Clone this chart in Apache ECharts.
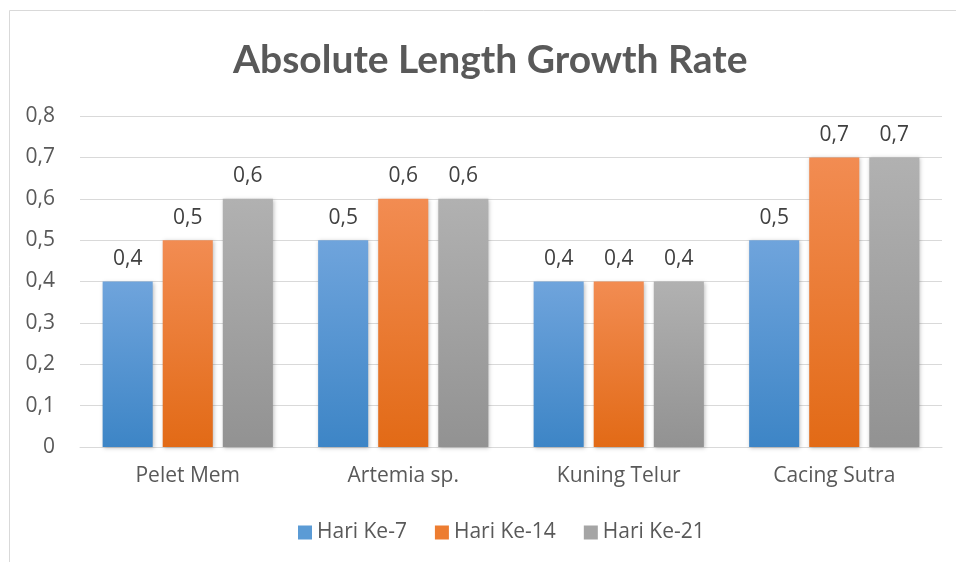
<!DOCTYPE html>
<html>
<head>
<meta charset="utf-8">
<script src="https://cdn.jsdelivr.net/npm/echarts@6/dist/echarts.min.js"></script>
<style>
  html, body { margin: 0; padding: 0; background: #fff; }
  #main { width: 956px; height: 562px; }
</style>
</head>
<body>
<div id="main"></div>
<script>
var categories = ['Pelet Mem', 'Artemia sp.', 'Kuning Telur', 'Cacing Sutra'];
var seriesNames = ['Hari Ke-7', 'Hari Ke-14', 'Hari Ke-21'];
var hari7 = [0.4, 0.5, 0.4, 0.5];
var hari14 = [0.5, 0.6, 0.4, 0.7];
var hari21 = [0.6, 0.6, 0.4, 0.7];

var font = '"Open Sans", Lato, sans-serif';
var titleFont = 'Lato, "Open Sans", sans-serif';

function grad(top, bottom) {
    return new echarts.graphic.LinearGradient(0, 0, 0, 1, [
        { offset: 0, color: top },
        { offset: 1, color: bottom }
    ]);
}

function fmt(v) {
    return String(v).replace('.', ',');
}

var colors = [
    grad('#6fa4dc', '#3d85c6'),
    grad('#f28c52', '#e26a16'),
    grad('#b1b1b1', '#929292')
];
var legendColors = ['#5b9bd5', '#ed7d31', '#a5a5a5'];

var myChart = echarts.init(document.getElementById('main'));

function makeSeries(name, data, i) {
    return {
        name: name,
        type: 'bar',
        data: data,
        barGap: '20%',
        barCategoryGap: '21%',
        itemStyle: {
            color: colors[i],
            shadowBlur: 4,
            shadowColor: 'rgba(0,0,0,0.25)',
            shadowOffsetX: 1,
            shadowOffsetY: 1
        },
        label: {
            show: true,
            position: 'top',
            distance: 12,
            fontFamily: font,
            fontSize: 21,
            color: '#404040',
            formatter: function (p) { return fmt(p.value); }
        }
    };
}

myChart.setOption({
    animation: false,
    graphic: [{
        type: 'rect',
        shape: { x: 9.5, y: 10.5, width: 960, height: 570 },
        style: { fill: 'none', stroke: '#d9d9d9', lineWidth: 1 },
        silent: true
    }],
    title: {
        text: 'Absolute Length Growth Rate',
        left: 228,
        top: 36,
        textStyle: {
            fontFamily: titleFont,
            fontWeight: 'bold',
            fontSize: 39,
            color: '#595959'
        }
    },
    legend: {
        data: seriesNames.map(function (n, i) {
            return { name: n, itemStyle: { color: legendColors[i] } };
        }),
        bottom: 14,
        left: 293,
        icon: 'rect',
        itemWidth: 14,
        itemHeight: 14,
        itemGap: 28,
        textStyle: { fontFamily: font, fontSize: 21, color: '#595959' }
    },
    grid: { left: 80, right: 14, top: 116, bottom: 115 },
    xAxis: {
        type: 'category',
        data: categories,
        axisTick: { show: false },
        axisLine: { lineStyle: { color: '#d9d9d9', width: 1 } },
        axisLabel: { fontFamily: font, fontSize: 21, color: '#595959', margin: 19 }
    },
    yAxis: {
        type: 'value',
        min: 0,
        max: 0.8,
        interval: 0.1,
        axisLine: { show: false },
        axisTick: { show: false },
        splitLine: { lineStyle: { color: '#d9d9d9', width: 1 } },
        axisLabel: {
            fontFamily: font, fontSize: 21, color: '#595959', margin: 25,
            formatter: function (v) { return fmt(Math.round(v * 10) / 10); }
        }
    },
    series: [
        makeSeries(seriesNames[0], hari7, 0),
        makeSeries(seriesNames[1], hari14, 1),
        makeSeries(seriesNames[2], hari21, 2)
    ]
});
</script>
</body>
</html>
